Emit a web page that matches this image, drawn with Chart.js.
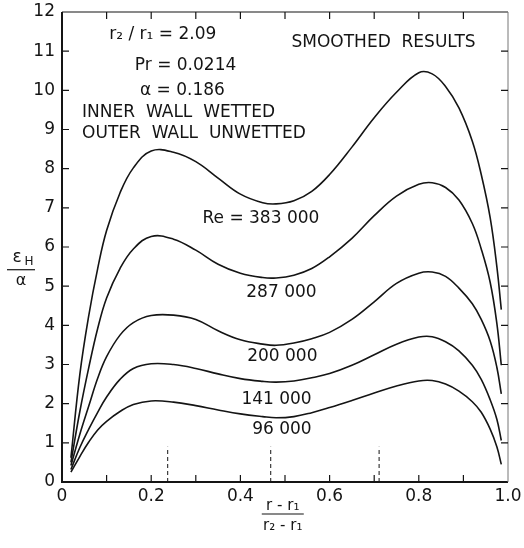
<!DOCTYPE html>
<html>
<head>
<meta charset="utf-8">
<script src="https://cdn.jsdelivr.net/npm/chart.js@4.4.1/dist/chart.umd.min.js"></script>
<style>
  html, body { margin: 0; padding: 0; background: #fff; }
</style>
</head>
<body>
<canvas id="chart" width="524" height="548"></canvas>
<script>
// radial position (r - r1)/(r2 - r1)
const xPos = [0.02, 0.04, 0.06, 0.08, 0.10, 0.13, 0.16, 0.20, 0.25, 0.30, 0.35, 0.40, 0.45, 0.48,
  0.52, 0.56, 0.60, 0.65, 0.70, 0.75, 0.80, 0.83, 0.86, 0.89, 0.92, 0.94, 0.96, 0.975, 0.985];

// eps_H / alpha for each Reynolds number
const re383 = [0.62, 2.75, 4.25, 5.45, 6.42, 7.38, 8.02, 8.45, 8.42, 8.18, 7.76, 7.35, 7.13, 7.10,
  7.18, 7.42, 7.85, 8.55, 9.3, 9.95, 10.45, 10.42, 10.1, 9.55, 8.7, 7.85, 6.75, 5.5, 4.4];
const re287 = [0.5, 1.8, 2.92, 3.92, 4.7, 5.45, 5.95, 6.27, 6.2, 5.92, 5.56, 5.33, 5.22, 5.21,
  5.28, 5.45, 5.75, 6.22, 6.8, 7.3, 7.6, 7.64, 7.52, 7.2, 6.6, 5.95, 5.1, 4.05, 2.98];
const re200 = [0.42, 1.22, 1.94, 2.65, 3.2, 3.75, 4.07, 4.25, 4.26, 4.15, 3.86, 3.63, 3.52, 3.49,
  3.55, 3.66, 3.82, 4.15, 4.6, 5.07, 5.33, 5.36, 5.25, 4.95, 4.55, 4.15, 3.6, 2.93, 2.25];
const re141 = [0.32, 0.88, 1.35, 1.78, 2.17, 2.62, 2.9, 3.02, 3.0, 2.9, 2.76, 2.64, 2.57, 2.55,
  2.58, 2.66, 2.77, 2.98, 3.25, 3.52, 3.7, 3.71, 3.58, 3.35, 2.98, 2.62, 2.1, 1.6, 1.06];
const re96 = [0.25, 0.65, 1.02, 1.33, 1.55, 1.8, 1.98, 2.07, 2.04, 1.95, 1.84, 1.74, 1.67, 1.64,
  1.67, 1.77, 1.9, 2.08, 2.27, 2.45, 2.58, 2.59, 2.5, 2.32, 2.05, 1.78, 1.35, 0.9, 0.45];

const seriesNames = ['Re = 383 000', '287 000', '200 000', '141 000', '96 000'];
const seriesValues = [re383, re287, re200, re141, re96];
// where each curve label sits (data units)
const nameX = [0.446, 0.492, 0.494, 0.481, 0.493];
const nameY = [6.72, 4.84, 3.19, 2.11, 1.34];

// dashed marker lines near the bottom axis
const markerX = [0.237, 0.468, 0.711];
const markerTop = 0.9;

const xTicks = [0, 0.2, 0.4, 0.6, 0.8, 1.0];

const ink = '#141414';
const face = '"DejaVu Sans", sans-serif';

const notes = [
  { text: 'r\u2082 / r\u2081 = 2.09', x: 0.226, y: 11.42, align: 'center' },
  { text: 'Pr = 0.0214', x: 0.277, y: 10.63, align: 'center' },
  { text: '\u03b1 = 0.186', x: 0.270, y: 9.99, align: 'center' },
  { text: 'INNER  WALL  WETTED', x: 0.045, y: 9.44, align: 'left' },
  { text: 'OUTER  WALL  UNWETTED', x: 0.045, y: 8.89, align: 'left' },
  { text: 'SMOOTHED  RESULTS', x: 0.721, y: 11.22, align: 'center' }
];

const datasets = seriesValues.map((vals, i) => ({
  label: seriesNames[i],
  data: xPos.map((x, j) => ({ x: x, y: vals[j] })),
  borderColor: ink,
  borderWidth: 1.6,
  pointRadius: 0,
  tension: 0.4,
  fill: false
}));

markerX.forEach(mx => {
  datasets.push({
    label: 'marker',
    data: [{ x: mx, y: 0 }, { x: mx, y: markerTop }],
    borderColor: ink,
    borderWidth: 1,
    borderDash: [4, 3],
    pointRadius: 0
  });
});

const framePlugin = {
  id: 'frame',
  afterDatasetsDraw(chart) {
    const { ctx, chartArea: a, scales: { x, y } } = chart;
    ctx.save();

    // box
    ctx.strokeStyle = ink;
    ctx.lineWidth = 2;
    ctx.beginPath();
    ctx.moveTo(a.left, a.top);
    ctx.lineTo(a.left, a.bottom);
    ctx.lineTo(a.right, a.bottom);
    ctx.stroke();
    ctx.lineWidth = 1.2;
    ctx.beginPath();
    ctx.moveTo(a.left, a.top);
    ctx.lineTo(a.right, a.top);
    ctx.stroke();
    ctx.strokeStyle = '#777';
    ctx.lineWidth = 1;
    ctx.beginPath();
    ctx.moveTo(a.right, a.top);
    ctx.lineTo(a.right, a.bottom);
    ctx.stroke();

    // inward ticks on all four sides
    ctx.strokeStyle = ink;
    ctx.lineWidth = 1.2;
    ctx.beginPath();
    for (let i = 1; i < 10; i++) {
      const px = x.getPixelForValue(i / 10);
      ctx.moveTo(px, a.bottom); ctx.lineTo(px, a.bottom - 7);
      ctx.moveTo(px, a.top); ctx.lineTo(px, a.top + 7);
    }
    for (let i = 1; i < 12; i++) {
      const py = y.getPixelForValue(i);
      ctx.moveTo(a.left, py); ctx.lineTo(a.left + 7, py);
      ctx.moveTo(a.right, py); ctx.lineTo(a.right - 7, py);
    }
    ctx.stroke();

    // text notes
    ctx.fillStyle = ink;
    ctx.textBaseline = 'middle';
    ctx.font = '17px ' + face;
    notes.forEach(n => {
      ctx.textAlign = n.align;
      ctx.fillText(n.text, x.getPixelForValue(n.x), y.getPixelForValue(n.y));
    });

    // curve names
    ctx.textAlign = 'center';
    seriesNames.forEach((s, i) => {
      ctx.fillText(s, x.getPixelForValue(nameX[i]), y.getPixelForValue(nameY[i]));
    });

    // y title: eps_H over alpha
    const yl = y.getPixelForValue(5.42);
    const cx = a.left - 41;
    ctx.lineWidth = 1.2;
    ctx.beginPath();
    ctx.moveTo(cx - 14, yl); ctx.lineTo(cx + 14, yl);
    ctx.stroke();
    ctx.font = '17px ' + face;
    ctx.textAlign = 'center';
    ctx.fillText('\u03b5', cx - 4, yl - 12);
    ctx.font = '12px ' + face;
    ctx.fillText('H', cx + 8, yl - 8);
    ctx.font = '16px ' + face;
    ctx.fillText('\u03b1', cx, yl + 11);

    // x title: (r - r1)/(r2 - r1)
    const mx = x.getPixelForValue(0.495);
    const xl = a.bottom + 32;
    ctx.beginPath();
    ctx.moveTo(mx - 21, xl); ctx.lineTo(mx + 21, xl);
    ctx.stroke();
    ctx.font = '15px ' + face;
    ctx.fillText('r - r\u2081', mx, xl - 8);
    ctx.fillText('r\u2082 - r\u2081', mx, xl + 12);

    ctx.restore();
  }
};

new Chart(document.getElementById('chart'), {
  type: 'line',
  data: { datasets: datasets },
  options: {
    responsive: false,
    animation: false,
    events: [],
    layout: { padding: { top: 12, right: 16, left: 0, bottom: 0 } },
    plugins: { legend: { display: false }, tooltip: { enabled: false } },
    scales: {
      x: {
        type: 'linear',
        min: 0,
        max: 1,
        afterBuildTicks: s => { s.ticks = xTicks.map(v => ({ value: v })); },
        afterFit: s => { s.height = 66; s.paddingLeft = 0; s.paddingRight = 0; },
        grid: { display: false, drawTicks: false },
        border: { display: false },
        ticks: {
          color: ink,
          font: { family: face, size: 17 },
          padding: 4,
          maxRotation: 0,
          callback: v => (v === 0 ? '0' : v.toFixed(1))
        }
      },
      y: {
        min: 0,
        max: 12,
        afterFit: s => { s.width = 62; s.paddingTop = 0; s.paddingBottom = 0; },
        grid: { display: false, drawTicks: false },
        border: { display: false },
        ticks: {
          stepSize: 1,
          color: ink,
          font: { family: face, size: 17 },
          padding: 7
        }
      }
    }
  },
  plugins: [framePlugin]
});
</script>
</body>
</html>
